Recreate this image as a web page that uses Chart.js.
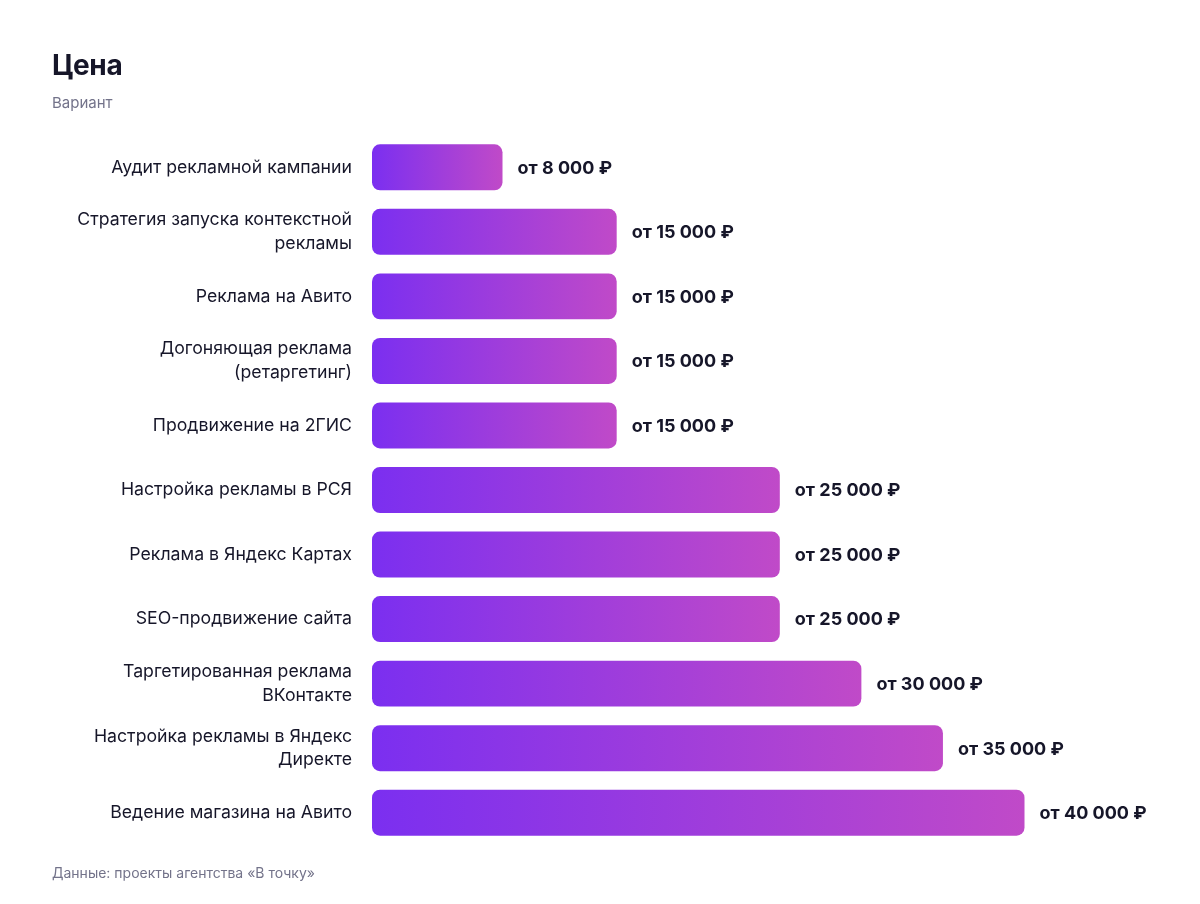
<!DOCTYPE html>
<html>
<head>
<meta charset="utf-8">
<script src="https://cdn.jsdelivr.net/npm/chart.js@4.4.1/dist/chart.umd.min.js"></script>
<style>
  html, body { margin: 0; padding: 0; background: #ffffff; }
  #wrap { position: relative; width: 1200px; height: 904px; }
  #c { position: absolute; left: 0; top: 0; }
  .t { position: absolute; left: 52px; margin: 0; white-space: nowrap; line-height: 1; }
  #title { top: 48px; font: 700 28px Inter, "Liberation Sans", sans-serif; color: #161629; letter-spacing: -0.4px; }
  #sub { top: 93px; font: 400 15px Inter, "Liberation Sans", sans-serif; color: #73738a; }
  #foot { top: 864px; font: 400 14px Inter, "Liberation Sans", sans-serif; color: #73738a; }
</style>
</head>
<body>
<div id="wrap">
  <canvas id="c" width="1200" height="904"></canvas>
  <div class="t" id="title">Цена</div>
  <div class="t" id="sub">Вариант</div>
  <div class="t" id="foot">Данные: проекты агентства «В точку»</div>
</div>
<script>
const categories = [
  ["Аудит рекламной кампании"],
  ["Стратегия запуска контекстной", "рекламы"],
  ["Реклама на Авито"],
  ["Догоняющая реклама", "(ретаргетинг)"],
  ["Продвижение на 2ГИС"],
  ["Настройка рекламы в РСЯ"],
  ["Реклама в Яндекс Картах"],
  ["SEO-продвижение сайта"],
  ["Таргетированная реклама", "ВКонтакте"],
  ["Настройка рекламы в Яндекс", "Директе"],
  ["Ведение магазина на Авито"]
];
const prices = [8000, 15000, 15000, 15000, 15000, 25000, 25000, 25000, 30000, 35000, 40000];
const valuePrefix = "от ";
const valueSuffix = " ₽";

function fmt(v) {
  return String(v).replace(/\B(?=(\d{3})+(?!\d))/g, " ");
}

const valueLabels = {
  id: "valueLabels",
  afterDatasetsDraw(chart) {
    const ctx = chart.ctx;
    const meta = chart.getDatasetMeta(0);
    ctx.save();
    ctx.font = '700 18px Inter, "Liberation Sans", sans-serif';
    ctx.fillStyle = "#161629";
    ctx.textAlign = "left";
    ctx.textBaseline = "middle";
    meta.data.forEach((bar, i) => {
      ctx.fillText(valuePrefix + fmt(prices[i]) + valueSuffix, bar.x + 15, bar.y + 1);
    });
    ctx.restore();
  }
};

new Chart(document.getElementById("c"), {
  type: "bar",
  data: {
    labels: categories,
    datasets: [{
      data: prices,
      borderRadius: 8,
      borderSkipped: false,
      barPercentage: 0.712,
      categoryPercentage: 1.0,
      backgroundColor(context) {
        const chart = context.chart;
        const xs = chart.scales && chart.scales.x;
        if (!xs || context.type !== "data") return "#7B2FF0";
        const x0 = xs.getPixelForValue(0);
        const x1 = xs.getPixelForValue(context.raw);
        if (!isFinite(x0) || !isFinite(x1) || x1 <= x0) return "#7B2FF0";
        const g = chart.ctx.createLinearGradient(x0, 0, x1, 0);
        g.addColorStop(0, "#7B2FF0");
        g.addColorStop(1, "#C04AC8");
        return g;
      }
    }]
  },
  options: {
    indexAxis: "y",
    responsive: false,
    animation: false,
    layout: { padding: { top: 135, bottom: 59, left: 0, right: 45 } },
    plugins: {
      legend: { display: false },
      tooltip: { enabled: false }
    },
    scales: {
      x: {
        display: false,
        min: 0,
        max: 48000
      },
      y: {
        grid: { display: false, drawTicks: false },
        border: { display: false },
        ticks: {
          color: "#161629",
          padding: 20,
          font: { family: 'Inter, "Liberation Sans", sans-serif', size: 17.7, lineHeight: 1.35 }
        },
        afterFit(scale) { scale.width = 372; }
      }
    }
  },
  plugins: [valueLabels]
});
</script>
</body>
</html>
